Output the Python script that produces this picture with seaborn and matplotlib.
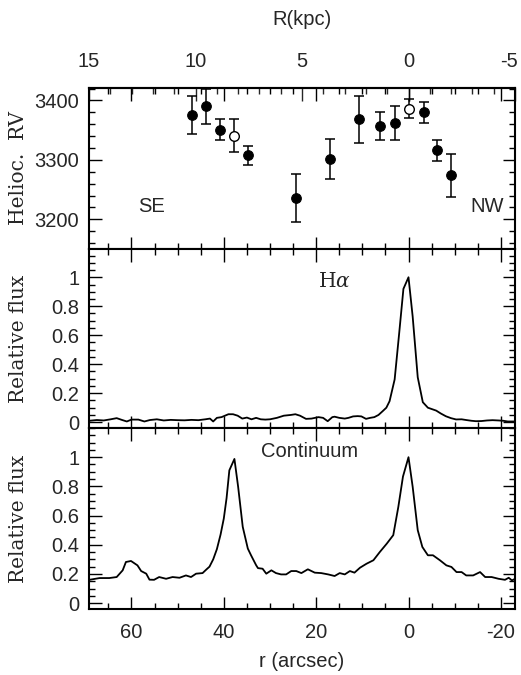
import numpy as np
import pandas as pd
import matplotlib
matplotlib.use("Agg")
import matplotlib.pyplot as plt
import matplotlib.transforms as mtransforms
from matplotlib.ticker import MultipleLocator, FixedLocator
import seaborn as sns

# ---------------- data ----------------
# Top panel: heliocentric radial velocities
rv_r_filled = [46.8, 43.8, 40.9, 34.8, 24.3, 16.9, 10.8, 6.1, 3.0, -3.25, -6.1, -9.1]
rv_v_filled = [3376, 3390, 3351, 3308, 3236, 3301, 3368, 3357, 3362, 3380, 3316, 3274]
rv_e_filled = [32, 30, 18, 16, 40, 34, 40, 24, 28, 18, 18, 36]
rv_r_open = [37.7, 0.0]
rv_v_open = [3341, 3386]
rv_e_open = [28, 16]

# Middle panel: H-alpha profile
ha_r = [69.1, 67.5, 66.0, 64.5, 63.2, 62.0, 61.0, 60.0, 58.5, 57.2, 56.0, 54.5, 53.0,
        51.5, 50.0, 48.5, 47.0, 45.5, 44.0, 43.0, 42.3, 41.5, 40.5, 39.0, 38.0, 37.0,
        36.0, 35.0, 34.0, 33.0, 32.0, 31.0, 30.0, 28.5, 27.0, 25.5, 24.5, 23.5, 22.2,
        21.0, 19.5, 18.5, 17.5, 16.5, 16.0, 15.0, 13.8, 13.0, 12.0, 11.0, 10.2, 9.2,
        8.3, 7.4, 6.5, 5.6, 4.8, 4.1, 3.0, 2.0, 1.1, 0.0, -0.9, -2.0, -3.1, -4.2,
        -5.1, -6.0, -7.0, -8.1, -9.2, -10.3, -11.5, -12.5, -13.6, -14.6, -15.8,
        -17.0, -18.2, -19.5, -20.5, -21.5, -23.0]
ha_f = [0.010, 0.015, 0.012, 0.020, 0.028, 0.015, 0.005, 0.018, 0.018, 0.005, 0.015,
        0.020, 0.012, 0.016, 0.014, 0.013, 0.016, 0.014, 0.020, 0.025, 0.005, 0.030,
        0.035, 0.055, 0.055, 0.045, 0.025, 0.032, 0.020, 0.030, 0.020, 0.018, 0.020,
        0.030, 0.045, 0.050, 0.055, 0.045, 0.023, 0.025, 0.035, 0.030, 0.007, 0.035,
        0.038, 0.030, 0.025, 0.030, 0.040, 0.042, 0.040, 0.023, 0.030, 0.035, 0.050,
        0.076, 0.100, 0.145, 0.295, 0.620, 0.920, 1.000, 0.730, 0.310, 0.138, 0.100,
        0.090, 0.080, 0.060, 0.041, 0.028, 0.019, 0.020, 0.015, 0.010, 0.007, 0.008,
        0.012, 0.014, 0.012, 0.010, 0.005, 0.005]

# Bottom panel: continuum profile
co_r = [69.1, 66.9, 64.8, 63.2, 61.9, 61.2, 60.1, 58.7, 57.9, 56.8, 56.1, 55.1, 54.0,
        52.5, 51.1, 49.6, 48.2, 47.1, 46.0, 44.6, 43.8, 43.1, 42.3, 41.5, 40.7, 40.0,
        39.4, 38.8, 37.7, 36.9, 35.9, 34.8, 34.1, 33.0, 32.6, 31.6, 30.8, 29.7, 28.7,
        27.6, 26.5, 25.4, 24.3, 23.2, 21.8, 20.3, 18.9, 17.4, 16.0, 14.9, 13.8, 12.7,
        11.7, 10.5, 9.1, 7.6, 6.2, 4.7, 3.3, 2.2, 1.2, 0.0, -0.9, -2.0, -3.0, -4.2,
        -5.3, -6.8, -8.2, -9.3, -10.4, -11.5, -12.5, -14.0, -15.5, -16.6, -18.0,
        -19.5, -20.9, -21.7, -22.4, -23.1]
co_f = [0.160, 0.172, 0.172, 0.179, 0.225, 0.282, 0.289, 0.259, 0.220, 0.202, 0.161,
        0.160, 0.179, 0.167, 0.179, 0.174, 0.190, 0.179, 0.202, 0.206, 0.230, 0.250,
        0.300, 0.370, 0.470, 0.580, 0.720, 0.910, 0.988, 0.798, 0.523, 0.374, 0.328,
        0.260, 0.240, 0.236, 0.202, 0.225, 0.206, 0.197, 0.197, 0.220, 0.220, 0.206,
        0.232, 0.209, 0.206, 0.197, 0.186, 0.206, 0.197, 0.220, 0.209, 0.243, 0.270,
        0.294, 0.351, 0.408, 0.466, 0.660, 0.867, 1.000, 0.798, 0.500, 0.385, 0.328,
        0.328, 0.294, 0.259, 0.248, 0.213, 0.213, 0.190, 0.190, 0.213, 0.179, 0.179,
        0.167, 0.160, 0.174, 0.156, 0.167]

ARCSEC_PER_KPC = 4.613
kpc_ticks = [15, 10, 5, 0, -5]
r_ticks = [60, 40, 20, 0, -20]

# ---------------- style ----------------
sns.set_style("ticks")
plt.rcParams['font.family'] = ['Liberation Sans', 'DejaVu Sans']
plt.rcParams['axes.unicode_minus'] = False
plt.rcParams['mathtext.fontset'] = 'dejavuserif'

FS = 14.5
SERIF = ['DejaVu Serif']

fig = plt.figure(figsize=(5.21, 6.75), dpi=100)
L, W = 89 / 521, 426 / 521
def ypos(top, bot):
    return [L, 1 - bot / 675, W, (bot - top) / 675]

ax1 = fig.add_axes(ypos(88, 249))
ax2 = fig.add_axes(ypos(249, 428))
ax3 = fig.add_axes(ypos(428, 609))

XLIM = (15 * ARCSEC_PER_KPC, -5 * ARCSEC_PER_KPC)

def style_axis(ax, ymaj, ymin):
    ax.set_xlim(*XLIM)
    ax.xaxis.set_major_locator(FixedLocator(r_ticks))
    ax.xaxis.set_minor_locator(MultipleLocator(5))
    ax.yaxis.set_major_locator(MultipleLocator(ymaj))
    ax.yaxis.set_minor_locator(MultipleLocator(ymin))
    ax.tick_params(which='both', direction='in', top=True, right=True,
                   labelsize=FS, color='black', width=1.0)
    ax.tick_params(which='major', length=9, pad=7)
    ax.tick_params(which='minor', length=4.5)
    for s in ax.spines.values():
        s.set_linewidth(1.5)
        s.set_color('black')

YLAB_X = -0.143

# ---- top panel ----
style_axis(ax1, 100, 20)
ax1.set_ylim(3150, 3421)
ax1.errorbar(rv_r_filled, rv_v_filled, yerr=rv_e_filled, fmt='none', ecolor='black',
             elinewidth=1.1, capsize=3.5, capthick=1.1)
ax1.errorbar(rv_r_open, rv_v_open, yerr=rv_e_open, fmt='none', ecolor='black',
             elinewidth=1.1, capsize=3.5, capthick=1.1)
df_f = pd.DataFrame({'r': rv_r_filled, 'v': rv_v_filled})
df_o = pd.DataFrame({'r': rv_r_open, 'v': rv_v_open})
sns.scatterplot(data=df_f, x='r', y='v', ax=ax1, color='black', s=48,
                edgecolor='black', linewidth=0.8, zorder=3)
sns.scatterplot(data=df_o, x='r', y='v', ax=ax1, facecolor='white', s=48,
                edgecolor='black', linewidth=1.0, zorder=3)
ax1.set_xlim(*XLIM)
ax1.tick_params(axis='x', labelbottom=False, labeltop=False)
ax1.set_xlabel('')
ax1.set_ylabel('Helioc.  RV', fontsize=FS, family=SERIF)
ax1.yaxis.set_label_coords(YLAB_X, 0.5)
ax1.text(55.7, 3221, 'SE', fontsize=FS, ha='center', va='center')
ax1.text(-17.1, 3221, 'NW', fontsize=FS, ha='center', va='center')

sec = ax1.secondary_xaxis('top', functions=(lambda r: np.asarray(r) / ARCSEC_PER_KPC,
                                            lambda k: np.asarray(k) * ARCSEC_PER_KPC))
sec.xaxis.set_major_locator(FixedLocator(kpc_ticks))
sec.xaxis.set_minor_locator(MultipleLocator(1))
sec.tick_params(which='both', direction='in', labelsize=FS, width=1.0)
sec.tick_params(which='major', length=9, pad=12)
sec.tick_params(which='minor', length=4.5)
sec.spines['top'].set_linewidth(1.5)
sec.set_xlabel('R(kpc)', fontsize=FS, labelpad=20)

# ---- middle panel ----
style_axis(ax2, 0.2, 0.05)
df_ha = pd.DataFrame({'r': ha_r, 'f': ha_f})
sns.lineplot(data=df_ha, x='r', y='f', ax=ax2, color='black', lw=1.3,
             sort=False, estimator=None)
ax2.set_xlim(*XLIM)
ax2.set_ylim(-0.04, 1.195)
ax2.set_yticks([0, 0.2, 0.4, 0.6, 0.8, 1.0])
ax2.set_yticklabels(['0', '0.2', '0.4', '0.6', '0.8', '1'])
ax2.tick_params(axis='x', labelbottom=False)
ax2.set_xlabel('')
ax2.set_ylabel('Relative flux', fontsize=FS, family=SERIF)
ax2.yaxis.set_label_coords(YLAB_X, 0.5)
ax2.text(16.0, 0.97, r'H$\alpha$', fontsize=FS, ha='center', va='center',
         family=SERIF)

# ---- bottom panel ----
style_axis(ax3, 0.2, 0.05)
df_co = pd.DataFrame({'r': co_r, 'f': co_f})
sns.lineplot(data=df_co, x='r', y='f', ax=ax3, color='black', lw=1.3,
             sort=False, estimator=None)
ax3.set_xlim(*XLIM)
ax3.set_ylim(-0.04, 1.2)
ax3.set_yticks([0, 0.2, 0.4, 0.6, 0.8, 1.0])
ax3.set_yticklabels(['0', '0.2', '0.4', '0.6', '0.8', '1'])
ax3.tick_params(axis='x', pad=10)
ax3.set_xticks(r_ticks)
ax3.set_xticklabels([str(t) for t in r_ticks])
ax3.set_xlabel('r (arcsec)', fontsize=FS, labelpad=7)
ax3.set_ylabel('Relative flux', fontsize=FS, family=SERIF)
ax3.yaxis.set_label_coords(YLAB_X, 0.5)
ax3.text(21.4, 1.036, 'Continuum', fontsize=FS, ha='center', va='center')

# keep the rightmost top label ("-5") inside the canvas
fig.canvas.draw()
for lab in sec.xaxis.get_ticklabels():
    if lab.get_text() in ('-5', '−5'):
        lab.set_transform(lab.get_transform() +
                          mtransforms.ScaledTranslation(-6 / 100, 0, fig.dpi_scale_trans))

fig.savefig('out.png', dpi=100)
